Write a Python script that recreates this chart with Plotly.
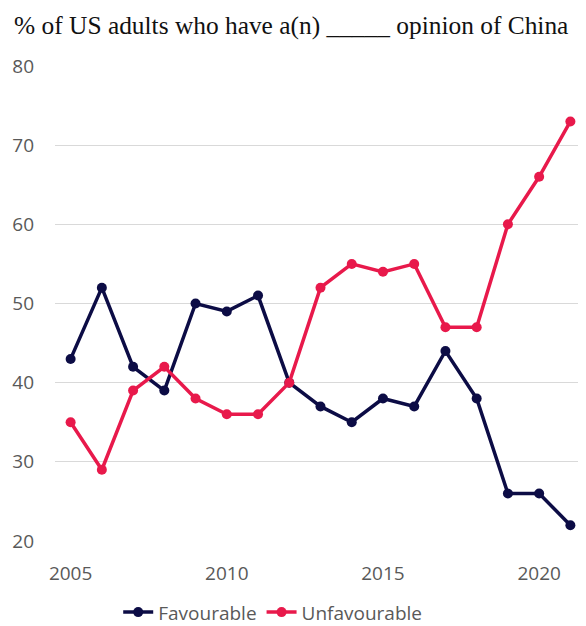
import plotly.graph_objects as go

years = list(range(2005, 2022))
favourable = [43, 52, 42, 39, 50, 49, 51, 40, 37, 35, 38, 37, 44, 38, 26, 26, 22]
unfavourable = [35, 29, 39, 42, 38, 36, 36, 40, 52, 55, 54, 55, 47, 47, 60, 66, 73]

navy = "#0c0c45"
red = "#e8194b"

fig = go.Figure()
fig.add_trace(go.Scatter(x=years, y=favourable, mode="lines+markers", name="Favourable",
                         line=dict(color=navy, width=3.5), marker=dict(size=10, color=navy),
                         cliponaxis=False))
fig.add_trace(go.Scatter(x=years, y=unfavourable, mode="lines+markers", name="Unfavourable",
                         line=dict(color=red, width=3.5), marker=dict(size=10, color=red),
                         cliponaxis=False))

# page body has an 8px default margin; figure sized to fit the 586x626 window
fig.update_layout(
    width=578, height=618,
    paper_bgcolor="white", plot_bgcolor="white",
    margin=dict(l=47, r=0, t=58, b=85, autoexpand=False),
    title=dict(text="% of US adults who have a(n) _____ opinion of China",
               font=dict(family="Liberation Serif", size=25.4, color="#111111"),
               x=0.49, xanchor="center", y=0.972, yanchor="middle", automargin=False),
    xaxis=dict(range=[2004.5, 2021.5], tickvals=[2005, 2010, 2015, 2020],
               showgrid=False, zeroline=False, showline=False, automargin=False,
               tickfont=dict(family="Open Sans", size=19, color="#595959"),
               ticks="", ticklabelstandoff=19),
    yaxis=dict(range=[20, 80], tickvals=[20, 30, 40, 50, 60, 70, 80],
               showgrid=True, gridcolor="#d9d9d9", gridwidth=1, zeroline=False,
               showline=False, ticks="", automargin=False,
               tickfont=dict(family="Open Sans", size=19, color="#595959"),
               ticklabelstandoff=20),
    legend=dict(orientation="h", x=0.41, xanchor="center", y=-0.15, yanchor="middle",
                font=dict(family="Open Sans", size=19, color="#595959"),
                itemwidth=30, tracegroupgap=0),
    showlegend=True,
)

fig.write_html("out.html")
